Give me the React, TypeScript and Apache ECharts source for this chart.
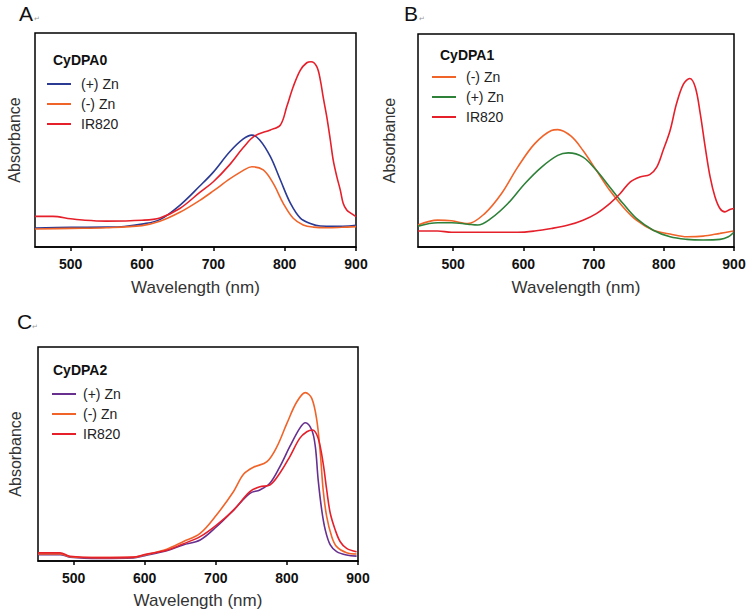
import React, { useEffect, useRef } from "react";
import * as echarts from "echarts";

const FONT = "'Liberation Sans', Arial, Helvetica, sans-serif";

// x-axis tick labels
const xTicks = [500, 600, 700, 800, 900];

// Panel A : CyDPA0
const aPlusX = [450, 500, 550, 575, 600, 625, 653, 681, 700, 723, 742, 754, 765, 780, 794, 808, 822, 836, 850, 870, 890, 900];
const aPlusY = [0.089, 0.092, 0.093, 0.096, 0.107, 0.128, 0.195, 0.285, 0.35, 0.445, 0.505, 0.523, 0.5, 0.422, 0.313, 0.205, 0.135, 0.11, 0.098, 0.097, 0.098, 0.102];
const aMinusX = [450, 500, 550, 600, 625, 653, 681, 700, 723, 742, 754, 770, 784, 798, 812, 826, 840, 860, 880, 900];
const aMinusY = [0.084, 0.087, 0.09, 0.1, 0.12, 0.162, 0.218, 0.262, 0.318, 0.358, 0.375, 0.36, 0.297, 0.204, 0.134, 0.103, 0.093, 0.09, 0.092, 0.095];
const aIrX = [450, 475, 500, 520, 550, 600, 625, 653, 681, 700, 723, 742, 758, 780, 794, 803, 812, 822, 831, 837, 845, 850, 854, 859, 864, 868, 873, 878, 882, 887, 892, 900];
const aIrY = [0.143, 0.143, 0.132, 0.125, 0.121, 0.125, 0.136, 0.18, 0.255, 0.305, 0.385, 0.465, 0.519, 0.547, 0.57, 0.656, 0.749, 0.827, 0.861, 0.866, 0.843, 0.78, 0.7, 0.609, 0.5, 0.407, 0.33, 0.266, 0.205, 0.173, 0.159, 0.142];

// Panel B : CyDPA1
const bMinusX = [450, 478, 498, 521, 545, 569, 592, 616, 640, 649, 668, 685, 704, 723, 742, 761, 785, 809, 833, 856, 880, 899];
const bMinusY = [0.103, 0.126, 0.123, 0.11, 0.157, 0.251, 0.375, 0.484, 0.547, 0.551, 0.52, 0.453, 0.36, 0.266, 0.188, 0.126, 0.079, 0.061, 0.048, 0.051, 0.064, 0.075];
const bPlusX = [450, 478, 498, 521, 535, 554, 578, 602, 626, 649, 664, 685, 704, 723, 742, 761, 785, 809, 833, 856, 880, 892, 899];
const bPlusY = [0.098, 0.114, 0.114, 0.107, 0.103, 0.134, 0.204, 0.297, 0.375, 0.43, 0.442, 0.422, 0.36, 0.282, 0.204, 0.134, 0.079, 0.048, 0.036, 0.033, 0.036, 0.048, 0.067];
const bIrX = [450, 478, 498, 521, 592, 616, 640, 664, 685, 704, 723, 738, 752, 766, 780, 790, 799, 809, 818, 828, 837, 845, 852, 859, 866, 873, 880, 887, 894, 900];
const bIrY = [0.075, 0.075, 0.069, 0.069, 0.069, 0.075, 0.087, 0.103, 0.126, 0.157, 0.204, 0.251, 0.305, 0.329, 0.34, 0.375, 0.453, 0.547, 0.671, 0.765, 0.791, 0.749, 0.625, 0.469, 0.329, 0.235, 0.181, 0.165, 0.176, 0.181];

// Panel C : CyDPA2
const cPlusX = [450, 481, 495, 537, 584, 600, 631, 654, 678, 701, 725, 748, 762, 776, 790, 804, 818, 826, 835, 840, 844, 849, 854, 861, 870, 884, 898];
const cPlusY = [0.03, 0.03, 0.018, 0.012, 0.014, 0.025, 0.048, 0.075, 0.098, 0.16, 0.238, 0.316, 0.332, 0.363, 0.44, 0.534, 0.62, 0.646, 0.612, 0.534, 0.379, 0.238, 0.145, 0.075, 0.044, 0.028, 0.023];
const cMinusX = [450, 481, 495, 537, 584, 600, 631, 654, 678, 701, 725, 739, 753, 772, 786, 800, 814, 826, 835, 842, 847, 851, 856, 863, 870, 884, 898];
const cMinusY = [0.033, 0.033, 0.02, 0.016, 0.017, 0.028, 0.055, 0.09, 0.129, 0.215, 0.325, 0.405, 0.438, 0.464, 0.534, 0.643, 0.744, 0.787, 0.76, 0.659, 0.503, 0.332, 0.207, 0.114, 0.067, 0.039, 0.033];
const cIrX = [450, 481, 495, 537, 584, 600, 631, 654, 678, 701, 725, 748, 762, 776, 790, 804, 818, 828, 836, 844, 851, 856, 861, 868, 875, 884, 898];
const cIrY = [0.038, 0.038, 0.022, 0.016, 0.018, 0.03, 0.05, 0.08, 0.114, 0.168, 0.238, 0.324, 0.347, 0.355, 0.41, 0.487, 0.573, 0.604, 0.612, 0.573, 0.456, 0.332, 0.223, 0.145, 0.09, 0.059, 0.043];

const panelLetters = ["A", "B", "C"];
const panelTitles = ["CyDPA0", "CyDPA1", "CyDPA2"];

const COLORS = {
  blue: "#2B3A93",
  orange: "#F0642A",
  red: "#E5202B",
  green: "#2E8139",
  purple: "#67308F",
};

function mk(name: string, xs: number[], ys: number[], color: string, idx: number) {
  return {
    type: "line",
    name,
    xAxisIndex: idx,
    yAxisIndex: idx,
    data: xs.map((x, i) => [x, ys[i]]),
    symbol: "none",
    showSymbol: false,
    smooth: 0.35,
    lineStyle: { width: 1.6, color },
    itemStyle: { color },
    emphasis: { disabled: true },
  };
}

const grids = [
  { left: 35, top: 33, width: 321, height: 214 },
  { left: 418, top: 34, width: 316, height: 213 },
  { left: 38, top: 347, width: 320, height: 214 },
];
const xNameGaps = [32, 32, 31];
const yNameGaps = [13, 21, 15];

function buildOption() {
  const xAxis = grids.map((_, i) => ({
    type: "value",
    gridIndex: i,
    min: 450,
    max: 900,
    axisLine: { show: true, lineStyle: { color: "#000", width: 1.5 } },
    axisTick: { show: true, customValues: xTicks, length: 4, lineStyle: { color: "#000", width: 1.5 } },
    axisLabel: { customValues: xTicks, margin: 10, fontSize: 14, fontWeight: "bold", color: "#111", fontFamily: FONT },
    splitLine: { show: false },
    name: "Wavelength (nm)",
    nameLocation: "middle",
    nameGap: xNameGaps[i],
    nameTextStyle: { fontSize: 17, color: "#333", fontFamily: FONT },
  }));
  const yAxis = grids.map((_, i) => ({
    type: "value",
    gridIndex: i,
    min: 0,
    max: 1,
    axisLine: { show: false },
    axisTick: { show: false },
    axisLabel: { show: false },
    splitLine: { show: false },
    name: "Absorbance",
    nameLocation: "middle",
    nameRotate: 90,
    nameGap: yNameGaps[i],
    nameTextStyle: { fontSize: 16, color: "#333", fontFamily: FONT },
  }));

  const series = [
    mk("A|(+) Zn", aPlusX, aPlusY, COLORS.blue, 0),
    mk("A|(-) Zn", aMinusX, aMinusY, COLORS.orange, 0),
    mk("A|IR820", aIrX, aIrY, COLORS.red, 0),
    mk("B|(-) Zn", bMinusX, bMinusY, COLORS.orange, 1),
    mk("B|(+) Zn", bPlusX, bPlusY, COLORS.green, 1),
    mk("B|IR820", bIrX, bIrY, COLORS.red, 1),
    mk("C|(+) Zn", cPlusX, cPlusY, COLORS.purple, 2),
    mk("C|(-) Zn", cMinusX, cMinusY, COLORS.orange, 2),
    mk("C|IR820", cIrX, cIrY, COLORS.red, 2),
  ];

  const legendPos = [
    { left: 47, top: 76, pad: 5 },
    { left: 432, top: 69, pad: 5 },
    { left: 52, top: 386, pad: 2 },
  ];
  const legend = legendPos.map((p, i) => ({
    orient: "vertical",
    left: p.left,
    top: p.top,
    padding: 0,
    itemGap: 4,
    itemWidth: 24,
    itemHeight: 2,
    icon: "rect",
    selectedMode: false,
    data: series.filter((s) => s.name.startsWith(panelLetters[i] + "|")).map((s) => s.name),
    formatter: (n: string) => n.split("|")[1],
    textStyle: { fontSize: 14, color: "#222", fontFamily: FONT, lineHeight: 16, padding: [0, 0, 0, p.pad] },
  }));

  const letterPos = [
    { left: 19, top: 3 },
    { left: 404, top: 3 },
    { left: 17, top: 311 },
  ];
  const titlePos = [
    { left: 53, top: 53 },
    { left: 440, top: 48 },
    { left: 53, top: 363 },
  ];
  const title: any[] = [];
  panelLetters.forEach((l, i) => {
    title.push({
      text: l,
      left: letterPos[i].left,
      top: letterPos[i].top,
      padding: 0,
      textStyle: { fontSize: 21, fontWeight: "normal", color: "#111", fontFamily: FONT },
    });
    title.push({
      text: "\u21b5",
      left: letterPos[i].left + 15,
      top: letterPos[i].top + 12,
      padding: 0,
      textStyle: { fontSize: 7, fontWeight: "normal", color: "#999", fontFamily: "'DejaVu Sans', sans-serif" },
    });
    title.push({
      text: panelTitles[i],
      left: titlePos[i].left,
      top: titlePos[i].top,
      padding: 0,
      textStyle: { fontSize: 14, fontWeight: "bold", color: "#111", fontFamily: FONT },
    });
  });

  return {
    animation: false,
    backgroundColor: "#fff",
    textStyle: { fontFamily: FONT },
    title,
    legend,
    grid: grids.map((g) => ({ ...g, show: true, borderColor: "#000", borderWidth: 1.5, backgroundColor: "transparent" })),
    xAxis,
    yAxis,
    series,
  };
}

export default function App() {
  const ref = useRef<HTMLDivElement>(null);
  useEffect(() => {
    const chart = echarts.init(ref.current!, null, { renderer: "svg" });
    chart.setOption(buildOption() as any);
    return () => chart.dispose();
  }, []);
  return (
    <div
      ref={ref}
      style={{ position: "absolute", left: 0, top: 0, width: 750, height: 613, background: "#fff" }}
    />
  );
}
